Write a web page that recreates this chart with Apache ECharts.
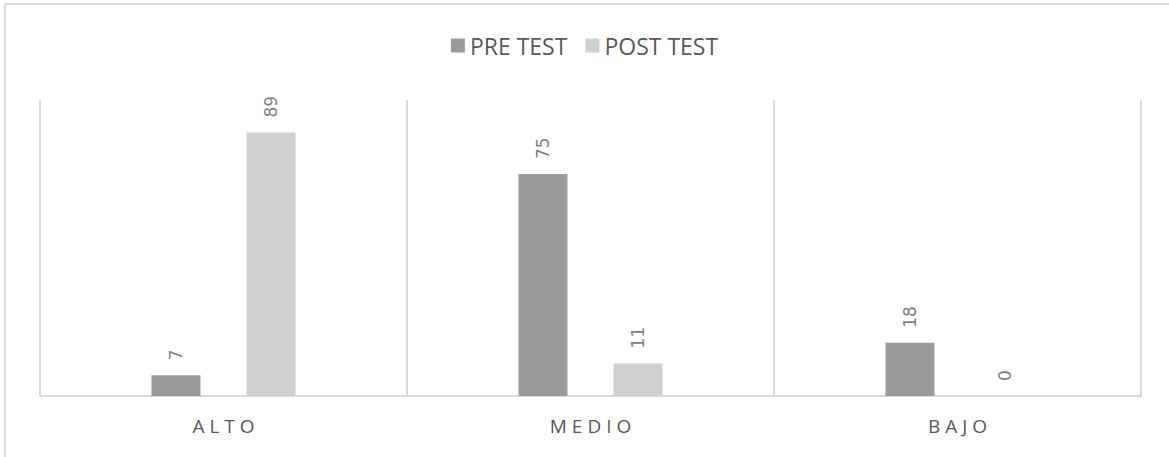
<!DOCTYPE html>
<html>
<head>
<meta charset="utf-8">
<script src="https://cdn.jsdelivr.net/npm/echarts@6/dist/echarts.min.js"></script>
<style>
html,body{margin:0;padding:0;background:#fff;}
#c{width:1169px;height:457px;}
</style>
</head>
<body>
<div id="c"></div>
<script>
var categories = ["ALTO", "MEDIO", "BAJO"];
var preTest = [7, 75, 18];
var postTest = [89, 11, 0];
var seriesNames = ["PRE TEST", "POST TEST"];

var chart = echarts.init(document.getElementById('c'), null, {renderer: 'svg'});
var fontFam = '"Open Sans", "Noto Sans", sans-serif';
var labelCfg = {
  show: true,
  position: 'top',
  rotate: 90,
  align: 'left',
  verticalAlign: 'middle',
  distance: 15,
  color: '#7f7f7f',
  fontSize: 17,
  fontFamily: '"DejaVu Sans", sans-serif'
};
chart.setOption({
  animation: false,
  backgroundColor: '#ffffff',
  graphic: [
    {type: 'line', shape: {x1: 5, y1: 4, x2: 1169, y2: 4}, style: {stroke: '#d9d9d9', lineWidth: 2}, silent: true},
    {type: 'line', shape: {x1: 5, y1: 4, x2: 5, y2: 457}, style: {stroke: '#d9d9d9', lineWidth: 2}, silent: true}
  ],
  legend: {
    top: 29,
    left: 'center',
    itemWidth: 14,
    itemHeight: 14,
    itemGap: 18,
    icon: 'rect',
    textStyle: {color: '#595959', fontSize: 23, fontFamily: fontFam},
    data: seriesNames
  },
  grid: {left: 40, right: 28, top: 100, bottom: 61},
  xAxis: {
    type: 'category',
    data: categories,
    axisLine: {show: true, lineStyle: {color: '#d9d9d9', width: 2}},
    axisTick: {show: false},
    splitLine: {show: true, lineStyle: {color: '#d9d9d9', width: 2}},
    axisLabel: {color: '#595959', fontSize: 19, margin: 20, fontFamily: fontFam}
  },
  yAxis: {
    type: 'value',
    min: 0,
    max: 100,
    show: false,
    splitLine: {show: false}
  },
  series: [
    {
      name: seriesNames[0],
      type: 'bar',
      data: preTest,
      barWidth: 49,
      barGap: '94%',
      itemStyle: {color: '#9a9a9a'},
      label: labelCfg
    },
    {
      name: seriesNames[1],
      type: 'bar',
      data: postTest,
      barWidth: 49,
      itemStyle: {color: '#d0d0d0'},
      label: labelCfg
    }
  ]
});
// letter spacing for category labels, as in the reference
document.querySelectorAll('#c svg text').forEach(function (t) {
  if (categories.indexOf(t.textContent) >= 0) {
    t.setAttribute('letter-spacing', '5');
    t.setAttribute('dx', '2.5');
  }
});
</script>
</body>
</html>
